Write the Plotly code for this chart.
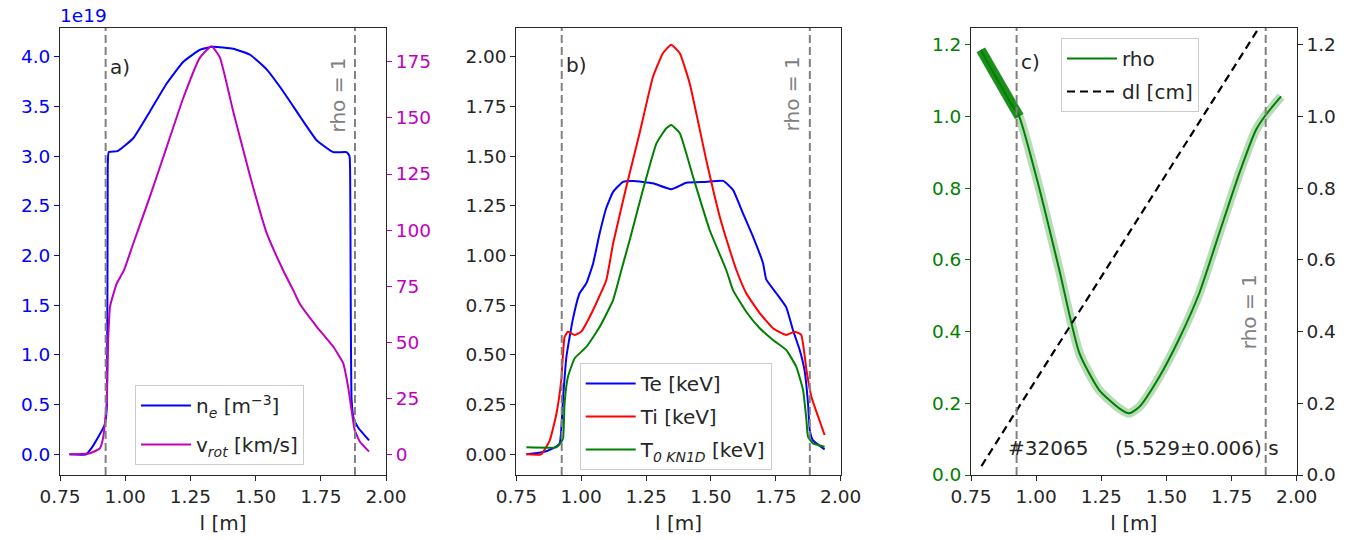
import plotly.graph_objects as go

# ---------------- data ----------------
# panel a
l_ne = [0.786, 0.85, 0.87, 0.90, 0.922, 0.93, 0.933, 0.937, 0.97, 1.031, 1.095, 1.159, 1.223,
        1.287, 1.337, 1.414, 1.479, 1.543, 1.606, 1.67, 1.734, 1.798, 1.849, 1.86, 1.863,
        1.868, 1.876, 1.893, 1.935]
ne = [0.0, 0.0, 0.06, 0.19, 0.30, 0.50, 2.90, 3.04, 3.05, 3.18, 3.45, 3.73, 3.95,
      4.07, 4.10, 4.08, 4.02, 3.87, 3.65, 3.40, 3.16, 3.04, 3.04, 3.00, 2.6,
      0.55, 0.36, 0.27, 0.14]
l_v = [0.786, 0.865, 0.903, 0.916, 0.929, 0.935, 0.942, 0.967, 0.995, 1.031, 1.095, 1.159,
       1.223, 1.287, 1.331, 1.363, 1.414, 1.479, 1.543, 1.606, 1.645, 1.67, 1.734, 1.798,
       1.836, 1.855, 1.868, 1.88, 1.9, 1.935]
v_rot = [0, 0.5, 2.7, 7.8, 22.7, 52, 66, 76, 82, 94, 115, 137,
         159, 177, 182, 177, 153, 124, 98.5, 82, 73, 67, 57, 48,
         40.6, 30, 19.7, 10.8, 5.6, 1.2]

# panel b
l_te = [0.789, 0.85, 0.891, 0.917, 0.93, 0.943, 0.968, 0.994, 1.02, 1.046, 1.071, 1.097, 1.123,
        1.161, 1.2, 1.277, 1.347, 1.405, 1.48, 1.547, 1.585, 1.624, 1.662, 1.701, 1.713, 1.752,
        1.79, 1.816, 1.842, 1.861, 1.874, 1.881, 1.893, 1.938]
te = [0.0, 0.01, 0.03, 0.055, 0.28, 0.49, 0.68, 0.81, 0.86, 0.96, 1.11, 1.24, 1.32,
      1.37, 1.375, 1.363, 1.333, 1.366, 1.37, 1.375, 1.33, 1.21, 1.095, 0.96, 0.88, 0.81,
      0.74, 0.625, 0.525, 0.42, 0.257, 0.12, 0.07, 0.025]
l_ti = [0.789, 0.846, 0.879, 0.904, 0.923, 0.936, 0.949, 0.975, 1.0, 1.046, 1.097, 1.123, 1.174,
        1.225, 1.277, 1.315, 1.347, 1.38, 1.418, 1.482, 1.534, 1.585, 1.598, 1.636, 1.688, 1.739,
        1.79, 1.823, 1.848, 1.868, 1.887, 1.913, 1.938]
ti = [0.0, 0.0, 0.07, 0.2, 0.37, 0.59, 0.617, 0.6, 0.617, 0.726, 0.877, 1.06, 1.346,
      1.615, 1.9, 2.017, 2.06, 2.017, 1.866, 1.48, 1.195, 0.977, 0.927, 0.81, 0.71, 0.634,
      0.6, 0.617, 0.6, 0.424, 0.29, 0.19, 0.097]
l_t0 = [0.789, 0.904, 0.917, 0.93, 0.936, 0.949, 0.975, 1.02, 1.071, 1.123, 1.155, 1.187, 1.238,
        1.29, 1.328, 1.347, 1.38, 1.431, 1.495, 1.559, 1.585, 1.636, 1.688, 1.739, 1.79, 1.829,
        1.855, 1.868, 1.874, 1.893, 1.938]
t0 = [0.035, 0.035, 0.05, 0.08, 0.256, 0.39, 0.483, 0.54, 0.64, 0.776, 0.927, 1.078, 1.33,
      1.564, 1.64, 1.656, 1.615, 1.396, 1.128, 0.927, 0.826, 0.717, 0.634, 0.575, 0.525, 0.44,
      0.323, 0.172, 0.089, 0.055, 0.038]

# panel c
l_rho = [0.788, 0.83, 0.87, 0.90, 0.935, 1.012, 1.089, 1.166, 1.242, 1.319, 1.357, 1.396, 1.473,
         1.549, 1.626, 1.703, 1.78, 1.844, 1.882, 1.94]
rho = [1.186, 1.13, 1.08, 1.04, 1.0, 0.80, 0.572, 0.34, 0.237, 0.186, 0.172, 0.19, 0.274,
       0.38, 0.507, 0.675, 0.842, 0.963, 1.005, 1.056]
n_edge = 5  # first points (dense sampling region outside the separatrix)
l_dl = [0.79, 1.94]
dl_cm = [0.025, 1.345]

rho1_positions = [0.925, 1.881]
shot_label = "#32065"
time_label = "(5.529\u00b10.006) s"

# ---------------- styling ----------------
FONT = "DejaVu Sans"
FS = 20      # labels / legend / annotations
FT = 18.5    # tick labels
TXT = "#262626"
BLUE = "#0000ff"
MAG = "#bf00bf"
GREEN = "#008000"
GRAY = "#808080"

W, H = 1359, 540
def px_x(p):
    return p / W
def px_y(p):
    return 1 - p / H

dom_y = [px_y(475), px_y(28)]
dom_a = [px_x(60), px_x(386)]
dom_b = [px_x(516.3), px_x(840.7)]
dom_c = [px_x(971), px_x(1296.7)]

SM = dict(shape="spline", smoothing=0.4)

fig = go.Figure()

# panel a
fig.add_trace(go.Scatter(x=l_ne, y=ne, mode="lines", line=dict(color=BLUE, width=2, **SM),
                         name="n<sub><i>e</i></sub> [m<sup>\u22123</sup>]",
                         xaxis="x", yaxis="y", legend="legend", legendgroup="a1"))
fig.add_trace(go.Scatter(x=l_v, y=v_rot, mode="lines", line=dict(color=MAG, width=2, **SM),
                         name="v<sub><i>rot</i></sub> [km/s]",
                         xaxis="x", yaxis="y2", legend="legend", legendgroup="a2"))
# panel b
fig.add_trace(go.Scatter(x=l_te, y=te, mode="lines", line=dict(color=BLUE, width=2, **SM),
                         name="Te [keV]", xaxis="x2", yaxis="y3", legend="legend2", legendgroup="b1"))
fig.add_trace(go.Scatter(x=l_ti, y=ti, mode="lines", line=dict(color="#ff0000", width=2, **SM),
                         name="Ti [keV]", xaxis="x2", yaxis="y3", legend="legend2", legendgroup="b2"))
fig.add_trace(go.Scatter(x=l_t0, y=t0, mode="lines", line=dict(color=GREEN, width=2, **SM),
                         name="T<sub><i>0 KN1D</i></sub> [keV]", xaxis="x2", yaxis="y3",
                         legend="legend2", legendgroup="b3"))
# panel c : marker band (dense x markers) + line
fig.add_trace(go.Scatter(x=l_rho, y=rho, mode="lines",
                         line=dict(color="rgba(0,128,0,0.28)", width=9, shape="spline", smoothing=0.6),
                         showlegend=False, hoverinfo="skip", xaxis="x3", yaxis="y4"))
fig.add_trace(go.Scatter(x=l_rho[:n_edge], y=rho[:n_edge], mode="lines",
                         line=dict(color="rgba(0,128,0,0.85)", width=10),
                         showlegend=False, hoverinfo="skip", xaxis="x3", yaxis="y4"))
fig.add_trace(go.Scatter(x=l_rho, y=rho, mode="lines",
                         line=dict(color=GREEN, width=2, shape="spline", smoothing=0.6),
                         name="rho", xaxis="x3", yaxis="y4", legend="legend3", legendgroup="c1"))
fig.add_trace(go.Scatter(x=l_dl, y=dl_cm, mode="lines",
                         line=dict(color="black", width=2.2, dash="8px,5px"),
                         name="dl [cm]", xaxis="x3", yaxis="y5", legend="legend3", legendgroup="c2"))

tickfont = dict(family=FONT, size=FT, color=TXT)
def xax(domain, anchor):
    return dict(domain=domain, anchor=anchor, range=[0.75, 2.0], tickvals=[0.75, 1.0, 1.25, 1.5, 1.75, 2.0],
                ticktext=["0.75", "1.00", "1.25", "1.50", "1.75", "2.00"],
                ticks="outside", ticklen=5, tickwidth=1, tickcolor=TXT, showline=True, linecolor=TXT,
                linewidth=1, mirror=True, showgrid=False, zeroline=False, tickfont=tickfont,
                title=dict(text="l [m]", font=dict(family=FONT, size=FS, color=TXT), standoff=9),
                automargin=False)

legend_common = dict(xanchor="left", yanchor="top", bgcolor="rgba(255,255,255,0.8)",
                     bordercolor="#cccccc", borderwidth=1, itemwidth=50,
                     font=dict(family=FONT, size=FS, color=TXT), traceorder="grouped")

fig.update_layout(
    width=W, height=H, margin=dict(l=0, r=0, t=0, b=0),
    paper_bgcolor="white", plot_bgcolor="white",
    font=dict(family=FONT, size=FS, color=TXT),
    xaxis=xax(dom_a, "y"),
    xaxis2=xax(dom_b, "y3"),
    xaxis3=xax(dom_c, "y4"),
    yaxis=dict(domain=dom_y, anchor="x", range=[-0.208, 4.289], tickvals=[0, 0.5, 1, 1.5, 2, 2.5, 3, 3.5, 4],
               tickformat=".1f", ticks="outside", ticklen=5, tickcolor=BLUE,
               tickfont=dict(family=FONT, size=FT, color=BLUE), showline=True, linecolor=TXT,
               showgrid=False, zeroline=False, automargin=False),
    yaxis2=dict(overlaying="y", anchor="x", side="right", range=[-9.2, 190.1],
                tickvals=[0, 25, 50, 75, 100, 125, 150, 175], ticks="outside", ticklen=5, tickcolor=MAG,
                tickfont=dict(family=FONT, size=FT, color=MAG), showline=True, linecolor=TXT,
                showgrid=False, zeroline=False, automargin=False),
    yaxis3=dict(domain=dom_y, anchor="x2", range=[-0.104, 2.144],
                tickvals=[0, 0.25, 0.5, 0.75, 1.0, 1.25, 1.5, 1.75, 2.0], tickformat=".2f",
                ticks="outside", ticklen=5, tickcolor=TXT, tickfont=tickfont, showline=True,
                linecolor=TXT, mirror=True, showgrid=False, zeroline=False, automargin=False),
    yaxis4=dict(domain=dom_y, anchor="x3", range=[0, 1.247], tickvals=[0, 0.2, 0.4, 0.6, 0.8, 1.0, 1.2],
                tickformat=".1f", ticks="outside", ticklen=5, tickcolor=GREEN,
                tickfont=dict(family=FONT, size=FT, color=GREEN), showline=True, linecolor=TXT,
                showgrid=False, zeroline=False, automargin=False),
    yaxis5=dict(overlaying="y4", anchor="x3", side="right", range=[0, 1.247],
                tickvals=[0, 0.2, 0.4, 0.6, 0.8, 1.0, 1.2], tickformat=".1f", ticks="outside",
                ticklen=5, tickcolor=TXT, tickfont=tickfont, showline=True, linecolor=TXT,
                showgrid=False, zeroline=False, automargin=False),
    legend=dict(x=px_x(135), y=px_y(385), tracegroupgap=10, **legend_common),
    legend2=dict(x=px_x(579.7), y=px_y(363), tracegroupgap=4, **legend_common),
    legend3=dict(x=px_x(1061), y=px_y(38), tracegroupgap=4, **legend_common),
)

# rho = 1 vertical dashed lines
for xref in ["x", "x2", "x3"]:
    for xp in rho1_positions:
        fig.add_shape(type="line", xref=xref, yref="paper", x0=xp, x1=xp, y0=dom_y[0], y1=dom_y[1],
                      line=dict(color=GRAY, width=2, dash="8px,4px"), layer="above")

ann = []
for xref, lab, ypx in [("x", "a)", 67), ("x2", "b)", 65), ("x3", "c)", 62)]:
    ann.append(dict(xref=xref, yref="paper", x=rho1_positions[0], y=px_y(ypx), text=lab,
                    xanchor="left", yanchor="middle", xshift=2, showarrow=False,
                    font=dict(family=FONT, size=FS, color=TXT)))
for xref, ytop in [("x", 55), ("x2", 54), ("x3", 272)]:
    ann.append(dict(xref=xref, yref="paper", x=rho1_positions[1], y=px_y(ytop), text="rho = 1",
                    textangle=-90, xanchor="right", yanchor="top", xshift=-3, showarrow=False,
                    font=dict(family=FONT, size=FS, color=GRAY)))
ann.append(dict(xref="paper", yref="paper", x=px_x(58), y=px_y(15), text="1e19", xanchor="left",
                yanchor="middle", showarrow=False, font=dict(family=FONT, size=FT, color=BLUE)))
ann.append(dict(xref="x3", yref="y4", x=0.884, y=0.075, text=shot_label, xanchor="left",
                yanchor="middle", showarrow=False, font=dict(family=FONT, size=FS, color=TXT)))
ann.append(dict(xref="x3", yref="y4", x=1.94, y=0.075, text=time_label, xanchor="right",
                yanchor="middle", showarrow=False, font=dict(family=FONT, size=FS, color=TXT)))
fig.update_layout(annotations=ann)

fig.write_html("out.html", config={"displayModeBar": False},
               post_script="document.body.style.margin='0px';document.body.style.padding='0px';")
